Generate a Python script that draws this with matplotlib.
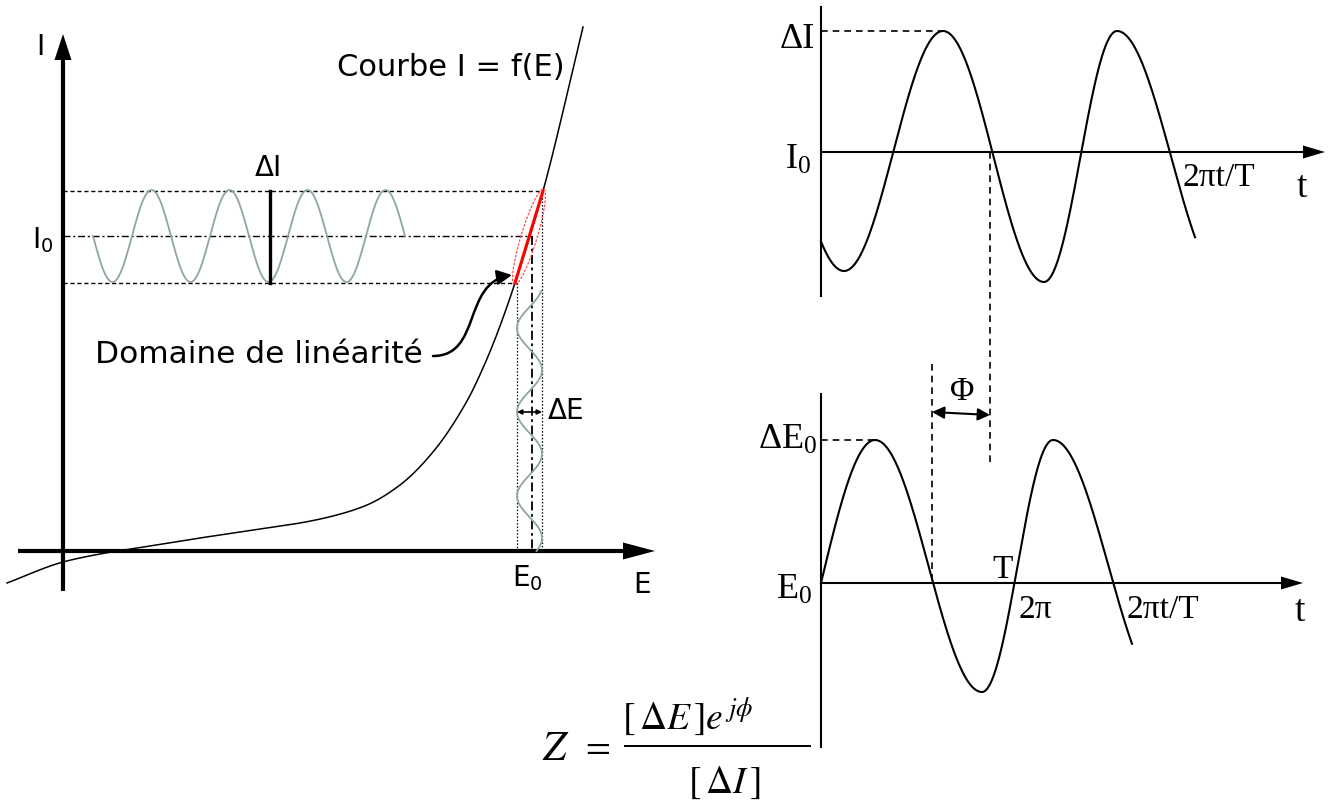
import numpy as np
import matplotlib
matplotlib.use("Agg")
import matplotlib.pyplot as plt
from matplotlib.patches import FancyArrowPatch, Polygon
from matplotlib.path import Path

plt.rcParams['mathtext.fontset'] = 'custom'
plt.rcParams['mathtext.rm'] = 'Liberation Serif'
plt.rcParams['mathtext.it'] = 'Liberation Serif:italic'

# ---------------- left panel: characteristic I = f(E) ----------------
curve_x = [7, 63, 100, 150, 200, 267, 300, 333, 367, 400, 433, 467, 483, 497, 515, 543, 583]
curve_y = [584, 563, 555, 547, 539, 529, 524, 517, 506, 486, 453, 402, 369, 335, 284, 192, 28]

origin = (63, 552)          # crossing of the I and E axes
i_levels = [192, 237, 284]  # I0 + dI, I0, I0 - dI
e_levels = [517, 532, 542]  # E0 - dE, E0, E0 + dE
di_bar_x = 270

# horizontal current ripple
ripple_start, ripple_period, ripple_cycles = 93, 78, 4
# vertical potential ripple
vripple_top, vripple_period, vripple_left_touch = 292, 84, 413

# ---------------- right panels: time signals ----------------
top_axis_x, top_axis_y = 821, 153
top_ext_x = [743, 844, 943, 1044, 1117, 1225]
top_ext_y = [32, 272, 32, 283, 32, 283]
top_span = (821, 1195)

bot_axis_x, bot_axis_y = 821, 584
bot_ext_x = [767, 875, 982, 1053, 1164]
bot_ext_y = [727, 441, 693, 441, 693]
bot_span = (821, 1132)

phase_x = [932, 990]

GREY = '#8fa5a5'
SANS = 'DejaVu Sans'
SERIF = 'Liberation Serif'


def pchip(x, y, xs):
    x = np.asarray(x, float); y = np.asarray(y, float)
    h = np.diff(x); d = np.diff(y) / h
    m = np.zeros_like(y)
    for k in range(1, len(x) - 1):
        if d[k - 1] * d[k] > 0:
            w1 = 2 * h[k] + h[k - 1]; w2 = h[k] + 2 * h[k - 1]
            m[k] = (w1 + w2) / (w1 / d[k - 1] + w2 / d[k])
    m[0] = d[0]; m[-1] = d[-1]
    idx = np.clip(np.searchsorted(x, xs) - 1, 0, len(h) - 1)
    t = (xs - x[idx]) / h[idx]
    h00 = 2 * t**3 - 3 * t**2 + 1; h10 = t**3 - 2 * t**2 + t
    h01 = -2 * t**3 + 3 * t**2; h11 = t**3 - t**2
    return h00 * y[idx] + h10 * h[idx] * m[idx] + h01 * y[idx + 1] + h11 * h[idx] * m[idx + 1]


def extrema_wave(xe, ye, x0, x1, n=600):
    xs = np.linspace(x0, x1, n)
    ys = np.empty_like(xs)
    for i in range(len(xe) - 1):
        m = (xs >= xe[i]) & (xs <= xe[i + 1])
        s = (xs[m] - xe[i]) / (xe[i + 1] - xe[i])
        ys[m] = ye[i] + (ye[i + 1] - ye[i]) * (1 - np.cos(np.pi * s)) / 2
    return xs, ys


def head(ax, tip, direction, length, width, color='black'):
    d = np.asarray(direction, float); d /= np.hypot(*d)
    p = np.array([-d[1], d[0]])
    tip = np.asarray(tip, float)
    base = tip - d * length
    pts = [tip, base + p * width / 2, base - p * width / 2]
    ax.add_patch(Polygon(pts, closed=True, color=color, lw=0))


fig = plt.figure(figsize=(13.31, 8.03), dpi=100)
ax = fig.add_axes([0, 0, 1, 1])
ax.set_xlim(0, 1331)
ax.set_ylim(803, 0)
ax.axis('off')

# ---- left axes
ox, oy = origin
ax.plot([ox, ox], [592, 55], color='black', lw=3, solid_capstyle='butt')
head(ax, (ox, 35), (0, -1), 26, 17)
ax.plot([18, 630], [oy, oy], color='black', lw=3, solid_capstyle='butt')
head(ax, (655, oy), (1, 0), 32, 17)

# guide lines
dash = (0, (3, 2))
ax.plot([ox, e_levels[2]], [i_levels[0], i_levels[0]], color='black', lw=1, ls=dash)
ax.plot([ox, e_levels[1]], [i_levels[1], i_levels[1]], color='black', lw=1, ls=(0, (5, 2, 1.5, 2)))
ax.plot([ox, e_levels[0]], [i_levels[2], i_levels[2]], color='black', lw=1, ls=dash)
ax.plot([e_levels[0], e_levels[0]], [i_levels[2], oy], color='black', lw=0.9, ls=(0, (1.2, 1.5)))
ax.plot([e_levels[1], e_levels[1]], [i_levels[1], oy], color='black', lw=1.3, ls=(0, (5, 2, 1.5, 2)))
ax.plot([e_levels[2], e_levels[2]], [i_levels[0], oy], color='black', lw=0.9, ls=(0, (1.2, 1.5)))

# current ripple
amp_i = (i_levels[2] - i_levels[0]) / 2
rx = np.linspace(ripple_start, ripple_start + ripple_cycles * ripple_period, 800)
ry = i_levels[1] + amp_i * np.sin(2 * np.pi * (rx - ripple_start) / ripple_period)
ax.plot(rx, ry, color=GREY, lw=1.3)
ax.plot([di_bar_x, di_bar_x], [i_levels[0], i_levels[2]], color='black', lw=2.4)

# potential ripple
amp_e = (e_levels[2] - e_levels[0]) / 2
ctr_e = (e_levels[2] + e_levels[0]) / 2
vy = np.linspace(vripple_top, oy, 600)
vx = ctr_e - amp_e * np.cos(2 * np.pi * (vy - vripple_left_touch) / vripple_period)
ax.plot(vx, vy, color=GREY, lw=1.3)
ax.add_patch(FancyArrowPatch((e_levels[0], vripple_left_touch), (e_levels[2], vripple_left_touch),
                             arrowstyle='<|-|>', mutation_scale=7, lw=1.2, color='black',
                             shrinkA=0, shrinkB=0))

# characteristic curve
cx = np.linspace(curve_x[0], curve_x[-1], 1500)
cy = pchip(curve_x, curve_y, cx)
ax.plot(cx, cy, color='black', lw=1.1)

# linear domain and Lissajous loop
p0 = np.array([curve_x[-3], curve_y[-3]], float)
p1 = np.array([curve_x[-2], curve_y[-2]], float)
ax.plot([p0[0], p1[0]], [p0[1], p1[1]], color='red', lw=2.2, solid_capstyle='round')
c = (p0 + p1) / 2
u = (p1 - p0) / np.hypot(*(p1 - p0))
v = np.array([-u[1], u[0]])
half = np.hypot(*(p1 - p0)) / 2 + 2
tt = np.linspace(0, 2 * np.pi, 200)
loop = c[:, None] + np.outer(u, half * np.cos(tt)) + np.outer(v, 8 * np.sin(tt))
ax.plot(loop[0], loop[1], color='#ff4a4a', lw=0.9, ls=(0, (2, 1.2)))

# label arrow
verts = [(433, 357), (482, 357), (462, 284), (512, 276)]
arrow_path = Path(verts, [Path.MOVETO, Path.CURVE4, Path.CURVE4, Path.CURVE4])
ax.add_patch(FancyArrowPatch(path=arrow_path, arrowstyle='-|>', mutation_scale=22,
                             lw=1.8, color='black'))

# left labels
ax.text(40, 47, 'I', family=SANS, fontsize=20, ha='center', va='center')
ax.text(43, 240, r'I$_0$', family=SANS, math_fontfamily='dejavusans', fontsize=20,
        ha='center', va='center')
ax.text(268, 168, 'ΔI', family=SANS, fontsize=20, ha='center', va='center')
ax.text(548, 411, 'ΔE', family=SANS, fontsize=20, ha='left', va='center')
ax.text(527, 578, r'E$_0$', family=SANS, math_fontfamily='dejavusans', fontsize=20,
        ha='center', va='center')
ax.text(642, 585, 'E', family=SANS, fontsize=20, ha='center', va='center')
ax.text(337, 67, 'Courbe I = f(E)', family=SANS, fontsize=22, ha='left', va='center')
ax.text(95, 355, 'Domaine de linéarité', family=SANS, fontsize=22.5, ha='left', va='center')

# ---- right top: current vs time
ax.plot([top_axis_x, top_axis_x], [8, 297], color='black', lw=1.5)
ax.plot([top_axis_x, 1305], [top_axis_y, top_axis_y], color='black', lw=1.5)
head(ax, (1325, top_axis_y), (1, 0), 22, 13)
tx, ty = extrema_wave(top_ext_x, top_ext_y, *top_span)
ax.plot(tx, ty, color='black', lw=1.5)
ax.plot([top_axis_x, top_ext_x[2]], [top_ext_y[2], top_ext_y[2]], color='black', lw=1.2, ls=(0, (4, 3)))

ax.text(797, 40, 'ΔI', family=SERIF, fontsize=26, ha='center', va='center')
ax.text(798, 160, r'I$_0$', family=SERIF, fontsize=26, ha='center', va='center')
ax.text(1183, 178, '2πt/T', family=SERIF, fontsize=24, ha='left', va='center')
ax.text(1302, 188, 't', family=SERIF, fontsize=27, ha='center', va='center')

# ---- right bottom: potential vs time
ax.plot([bot_axis_x, bot_axis_x], [395, 748], color='black', lw=1.5)
ax.plot([bot_axis_x, 1283], [bot_axis_y, bot_axis_y], color='black', lw=1.5)
head(ax, (1303, bot_axis_y), (1, 0), 22, 13)
bx, by = extrema_wave(bot_ext_x, bot_ext_y, *bot_span)
ax.plot(bx, by, color='black', lw=1.5)
ax.plot([bot_axis_x, bot_ext_x[1]], [bot_ext_y[1], bot_ext_y[1]], color='black', lw=1.2, ls=(0, (4, 3)))

# phase shift markers
ax.plot([phase_x[0], phase_x[0]], [365, bot_axis_y], color='black', lw=1.2, ls=(0, (4, 3)))
ax.plot([phase_x[1], phase_x[1]], [top_axis_y, 465], color='black', lw=1.2, ls=(0, (4, 3)))
ax.add_patch(FancyArrowPatch((phase_x[0], 413), (phase_x[1], 416), arrowstyle='<|-|>',
                             mutation_scale=18, lw=1.5, color='black', shrinkA=0, shrinkB=0))
ax.text(962, 392, 'Φ', family=SERIF, fontsize=24, ha='center', va='center')

ax.text(817, 440, r'ΔE$_0$', family=SERIF, fontsize=26, ha='right', va='center')
ax.text(812, 590, r'E$_0$', family=SERIF, fontsize=26, ha='right', va='center')
ax.text(1003, 570, 'T', family=SERIF, fontsize=24, ha='center', va='center')
ax.text(1019, 610, '2π', family=SERIF, fontsize=24, ha='left', va='center')
ax.text(1126, 610, '2πt/T', family=SERIF, fontsize=24, ha='left', va='center')
ax.text(1300, 612, 't', family=SERIF, fontsize=27, ha='center', va='center')

# ---- impedance definition
ax.text(556, 748, r'$Z$', math_fontfamily='stix', fontsize=30, ha='center', va='center')
ax.text(595, 746, r'$=$', math_fontfamily='stix', fontsize=26, ha='center', va='center')
ax.text(622, 717, r'$[\,\Delta E\,]e^{\,j\phi}$', math_fontfamily='stix', fontsize=27,
        ha='left', va='center')
ax.plot([625, 810], [747, 747], color='black', lw=1.4)
ax.text(724, 783, r'$[\,\Delta I\,]$', math_fontfamily='stix', fontsize=27,
        ha='center', va='center')

fig.savefig('out.png', dpi=100)
